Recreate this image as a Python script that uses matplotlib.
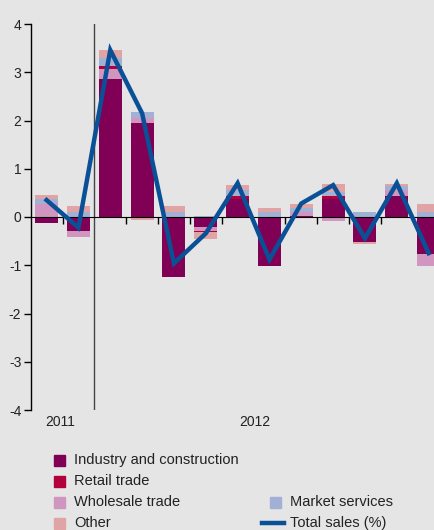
import matplotlib; matplotlib.use("Agg")
import matplotlib.pyplot as plt
import numpy as np
from matplotlib.patches import Rectangle
from matplotlib.lines import Line2D

plt.rcParams["font.family"] = ["Liberation Sans", "DejaVu Sans"]
plt.rcParams["axes.unicode_minus"] = False

BG = "#e5e5e5"
C_IND, C_RET, C_WHO, C_MKT, C_OTH = "#800055", "#b3003c", "#d096c0", "#a3b0d6", "#e0a4a4"
C_TOT = "#0a5096"

# Nov 2011 .. Nov 2012, contribution to total sales growth (percentage points)
months = ["Nov", "Dec", "Jan", "Feb", "Mar", "Apr", "May", "Jun", "Jul", "Aug", "Sep", "Oct", "Nov"]
industry = [-0.12, -0.30, 2.86, 1.95, -1.24, -0.21, 0.37, -1.01, 0.02, 0.37, -0.52, 0.44, -0.77]
wholesale = [0.27, -0.12, 0.21, 0.10, 0.00, -0.07, 0.00, 0.00, 0.08, -0.08, 0.00, 0.12, -0.25]
retail = [0.00, 0.00, 0.06, 0.00, 0.00, -0.03, 0.06, 0.00, 0.00, 0.06, 0.00, 0.00, 0.00]
market = [0.10, 0.10, 0.17, 0.13, 0.10, 0.02, 0.12, 0.10, 0.08, 0.08, 0.10, 0.08, 0.10]
other = [0.09, 0.12, 0.16, -0.06, 0.12, -0.14, 0.12, 0.08, 0.08, 0.17, -0.04, 0.04, 0.17]
total = [0.35, -0.22, 3.46, 2.15, -0.96, -0.34, 0.70, -0.88, 0.28, 0.66, -0.44, 0.70, -0.75]
year_labels = ["2011", "2012"]
year_pos = [0.44, 6.55]
tick_bounds = [0.5, 2.5, 3.5, 4.5, 5.5, 7.5, 8.5, 9.5, 10.5]

W, H = 435, 530
fig = plt.figure(figsize=(W / 100, H / 100), dpi=100, facecolor=BG)
ax = fig.add_axes([31 / W, 120 / H, 404 / W, 386 / H], facecolor=BG)

x = np.arange(len(months))
pos_base = np.zeros(len(x)); neg_base = np.zeros(len(x))
for vals, col in [(industry, C_IND), (wholesale, C_WHO), (retail, C_RET), (market, C_MKT), (other, C_OTH)]:
    v = np.array(vals)
    base = np.where(v >= 0, pos_base, neg_base)
    ax.bar(x, v, 0.72, bottom=base, color=col, linewidth=0, zorder=2)
    pos_base += np.clip(v, 0, None); neg_base += np.clip(v, None, 0)

ax.plot(x, total, color=C_TOT, lw=3.2, zorder=4, solid_joinstyle="miter")
ax.axvline(1.5, color="#444444", lw=1, zorder=3)

ax.set_xlim(-0.49, 12.2)
ax.set_ylim(-4, 4)
ax.set_yticks(range(-4, 5))
ax.spines[["top", "right"]].set_visible(False)
ax.spines["bottom"].set_position(("data", 0))
ax.spines["bottom"].set_zorder(3)
ax.spines["left"].set_linewidth(1)
ax.set_xticks(tick_bounds)
ax.set_xticklabels([])
ax.tick_params(axis="x", direction="out", length=5, width=1)
ax.tick_params(axis="y", direction="out", length=5, width=1, pad=2, labelsize=10, labelcolor="#222222")

for lab, xp in zip(year_labels, year_pos):
    ax.text(xp, -4.24, lab, ha="center", va="center", fontsize=10, color="#222222", clip_on=False)

# legend drawn by hand in pixel positions
def px(xp, yp):
    return xp / W, 1 - yp / H

legend_items = [("Industry and construction", C_IND, 54, 460, "box"),
                ("Retail trade", C_RET, 54, 481, "box"),
                ("Wholesale trade", C_WHO, 54, 502, "box"),
                ("Other", C_OTH, 54, 523, "box"),
                ("Market services", C_MKT, 270, 502, "box"),
                ("Total sales (%)", C_TOT, 262, 523, "line")]
for lab, col, lx, ly, kind in legend_items:
    if kind == "box":
        fig.patches.append(Rectangle(px(lx, ly + 5.5), 11 / W, 11 / H, color=col, transform=fig.transFigure))
        tx = lx + 20
    else:
        x0, y0 = px(lx, ly); x1, _ = px(lx + 22, ly)
        fig.lines.append(Line2D([x0, x1], [y0, y0], color=col, lw=3.2, transform=fig.transFigure))
        tx = lx + 28
    fig.text(*px(tx, ly), lab, ha="left", va="center", fontsize=10.5, color="#222222")

fig.savefig("out.png", dpi=100, facecolor=BG)
